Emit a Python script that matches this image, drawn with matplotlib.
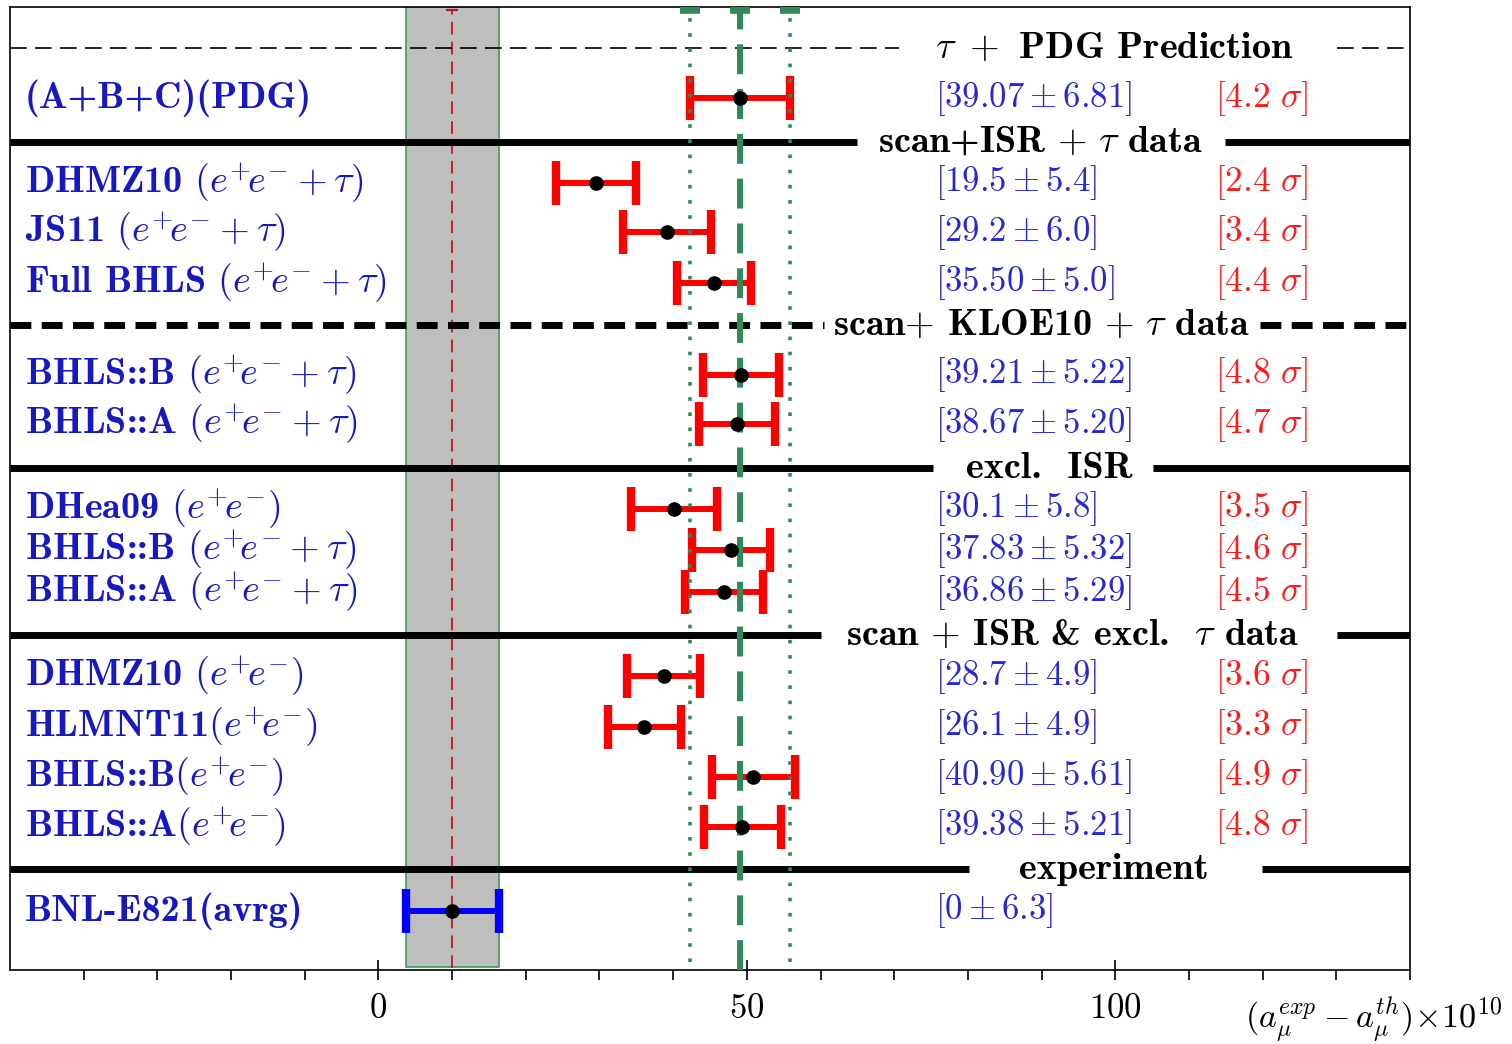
import matplotlib
matplotlib.use("Agg")
import matplotlib.pyplot as plt

plt.rcParams['mathtext.fontset'] = 'cm'
plt.rcParams['axes.unicode_minus'] = False

# ---------------- data ----------------
EE = r"e^{+}\!e^{-}"
labels = [
    "(A+B+C)(PDG)",
    "DHMZ10 $(" + EE + r"+\tau)$",
    "JS11 $(" + EE + r"+\tau)$",
    "Full BHLS $(" + EE + r"+\tau)$",
    "BHLS::B $(" + EE + r"+\tau)$",
    "BHLS::A $(" + EE + r"+\tau)$",
    "DHea09 $(" + EE + ")$",
    "BHLS::B $(" + EE + r"+\tau)$",
    "BHLS::A $(" + EE + r"+\tau)$",
    "DHMZ10 $(" + EE + ")$",
    "HLMNT11$(" + EE + ")$",
    "BHLS::B$(" + EE + ")$",
    "BHLS::A$(" + EE + ")$",
    "BNL-E821(avrg)",
]
central_str = ["39.07", "19.5", "29.2", "35.50", "39.21", "38.67", "30.1",
               "37.83", "36.86", "28.7", "26.1", "40.90", "39.38", "0"]
error_str = ["6.81", "5.4", "6.0", "5.0", "5.22", "5.20", "5.8",
             "5.32", "5.29", "4.9", "4.9", "5.61", "5.21", "6.3"]
sigma_str = ["4.2", "2.4", "3.4", "4.4", "4.8", "4.7", "3.5",
             "4.6", "4.5", "3.6", "3.3", "4.9", "4.8", None]
# plotted positions (shifted scale)
plot_centers = [49.07, 29.5, 39.2, 45.5, 49.21, 48.67, 40.1,
                47.83, 46.86, 38.7, 36.1, 50.9, 49.38, 10.0]
plot_errors = [6.81, 5.4, 6.0, 5.0, 5.22, 5.20, 5.8,
               5.32, 5.29, 4.9, 4.9, 5.61, 5.21, 6.3]
bar_colors = ['#ff0000'] * 13 + ['#0000ff']

section_titles = [
    r"$\tau\ +$ PDG Prediction",
    r"scan+ISR $+\ \tau$ data",
    r"scan$+$ KLOE10 $+\ \tau$ data",
    "excl.  ISR",
    r"scan $+$ ISR & excl.  $\tau$ data",
    "experiment",
]

exp_center = 10.0
pred_center = 49.07
pred_err = 6.81
band_half = 6.3

# ---------------- layout ----------------
row_y = [98, 183, 232, 283, 375, 424, 509, 550, 592, 676, 727, 777, 827, 911]
sec_y = [48, 142, 325, 468, 635, 869]
sec_style = ['thin', 'solid', 'dash', 'solid', 'solid', 'solid']
sec_gap = [(70.7, 130.1), (65.0, 114.9), (60.5, 119.6), (75.2, 105.1),
           (60.1, 130.1), (80.2, 119.9)]
sec_text_x = [99.9, 89.9, 90.0, 91.0, 94.2, 99.8]

XMIN, XMAX = -50, 140
Y_BOT, Y_TOP = 970, 7

fig = plt.figure(figsize=(15.12, 10.44), dpi=100)
ax = fig.add_axes([10 / 1512, 74 / 1044, 1400 / 1512, 963 / 1044])
ax.set_xlim(XMIN, XMAX)
ax.set_ylim(Y_BOT, Y_TOP)

# grey band for experiment
ax.fill_betweenx([967, Y_TOP], exp_center - band_half, exp_center + band_half,
                 facecolor='#bebebe', edgecolor='#3c9a5a', linewidth=1.2, zorder=1)
# red dashed experiment line
ax.vlines(exp_center, 968, 10, colors='#c01818', linestyles=(0, (7, 4)),
          linewidth=1.3, zorder=2)
ax.plot([exp_center], [10], marker='_', ms=9, mew=1.6, color='#c01818', zorder=2)

# separators
for y, st, (g0, g1), tx, title in zip(sec_y, sec_style, sec_gap, sec_text_x, section_titles):
    if st == 'thin':
        kw = dict(color='black', linewidth=1.2, linestyle=(0, (10, 5)))
    elif st == 'dash':
        kw = dict(color='black', linewidth=5, linestyle=(0, (3, 1.5)), dash_capstyle='butt')
    else:
        kw = dict(color='black', linewidth=5, solid_capstyle='butt')
    ax.plot([XMIN, g0], [y, y], zorder=3, **kw)
    ax.plot([g1, XMAX], [y, y], zorder=3, **kw)
    ax.text(tx, y, title, ha='center', va='center', fontsize=27.5, color='black',
            zorder=6, family='cmb10')

# error bars
for x, e, y, c in zip(plot_centers, plot_errors, row_y, bar_colors):
    ax.errorbar([x], [y], xerr=[e], fmt='none', ecolor=c, elinewidth=4.3,
                capsize=16, capthick=6, zorder=4)

# prediction lines (green)
green = '#2e8b57'
ax.vlines(pred_center, Y_BOT, 10, colors=green, linestyles=(0, (5, 2.5)),
          linewidth=4.3, zorder=5)
for xx in (pred_center - pred_err, pred_center + pred_err):
    ax.vlines(xx, 962, 10, colors=green, linestyles=(0, (1, 3.2)),
              linewidth=2.6, zorder=5)
ax.plot([pred_center - pred_err, pred_center, pred_center + pred_err], [10, 10, 10],
        linestyle='none', marker='_', ms=15, mew=5.5, color=green, zorder=5)

# points
ax.plot(plot_centers, row_y, linestyle='none', marker='o', ms=9.5,
        color='black', zorder=7)

# texts
label_color = '#1818c0'
val_color = '#2828d0'
for i, (lab, y) in enumerate(zip(labels, row_y)):
    ax.text(-48.0, y, lab, ha='left', va='center', fontsize=27.5, color=label_color,
            family='cmb10')
    ax.text(75.5, y, r"$[%s \pm %s]$" % (central_str[i], error_str[i]),
            ha='left', va='center', fontsize=25, color=val_color)
    if sigma_str[i] is not None:
        ax.text(113.5, y, r"$[%s\ \sigma]$" % sigma_str[i],
                ha='left', va='center', fontsize=25.5, color='#ff1a1a')

# axes styling
ax.set_yticks([])
ax.set_xticks([0, 50, 100])
ax.set_xticklabels(['$0$', '$50$', '$100$'])
ax.set_xticks([-40, -30, -20, -10, 10, 20, 30, 40, 60, 70, 80, 90, 110, 120, 130, 140],
              minor=True)
ax.tick_params(which='major', direction='inout', length=14, width=1.2,
               labelsize=25, pad=8)
ax.tick_params(which='minor', direction='out', length=7, width=1.2)
for s in ax.spines.values():
    s.set_linewidth(1.2)

fig.text(1245 / 1512, 1 - 1020 / 1044,
         r"$(a_\mu^{exp} - a_\mu^{th})\!\times\! 10^{10}$",
         ha='left', va='center', fontsize=24.5)

fig.savefig('out.png', dpi=100)
